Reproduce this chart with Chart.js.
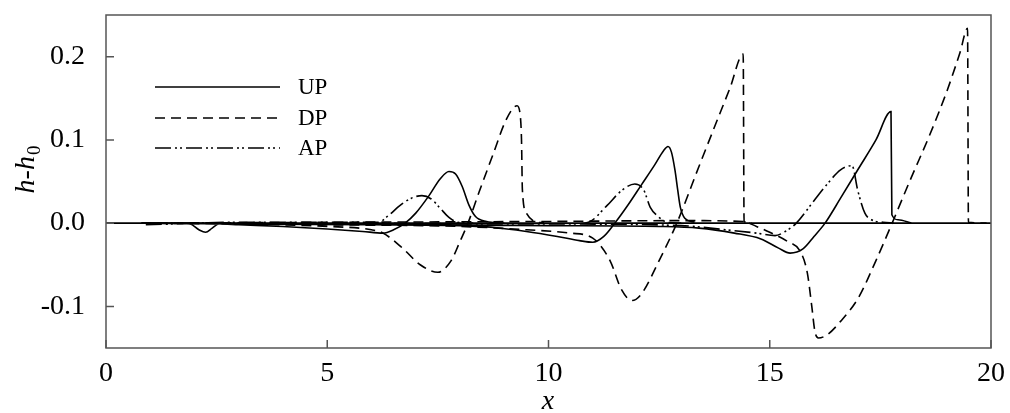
<!DOCTYPE html>
<html>
<head>
<meta charset="utf-8">
<script src="https://cdn.jsdelivr.net/npm/chart.js@4.4.1/dist/chart.umd.min.js"></script>
<style>
  html, body { margin: 0; padding: 0; background: #fff; }
  #wrap { width: 1010px; height: 413px; }
</style>
</head>
<body>
<div id="wrap"><canvas id="chart" width="1010" height="413"></canvas></div>
<script>
// x ticks / y ticks
const xTicks = [0, 5, 10, 15, 20];
const yTicks = [-0.1, 0.0, 0.1, 0.2];
const seriesNames = ['UP', 'DP', 'AP'];

// UP, three snapshots
const upX1 = [0.8, 1.5, 1.9, 2.1, 2.25, 2.4, 2.55, 3, 4, 5, 5.8, 6.26, 6.5, 6.76, 7.0, 7.3, 7.55, 7.75, 7.9, 8.05, 8.2, 8.35, 8.6, 9.0];
const upY1 = [0, 0, -0.001, -0.008, -0.011, -0.006, -0.001, -0.002, -0.004, -0.007, -0.010, -0.012, -0.008, 0.0, 0.012, 0.033, 0.053, 0.062, 0.059, 0.044, 0.022, 0.008, 0.002, 0];
const upX2 = [0.8, 3, 6, 8, 8.7, 9.5, 10.2, 10.7, 11.0, 11.25, 11.5, 11.8, 12.1, 12.4, 12.6, 12.7, 12.78, 12.86, 12.92, 12.98, 13.08, 13.3];
const upY2 = [0, -0.001, -0.002, -0.003, -0.005, -0.010, -0.016, -0.021, -0.023, -0.016, 0.0, 0.022, 0.046, 0.07, 0.087, 0.092, 0.085, 0.063, 0.04, 0.019, 0.006, 0.001];
const upX3 = [0.8, 5, 10, 12.5, 13.4, 14.2, 14.8, 15.2, 15.46, 15.75, 16.0, 16.25, 16.6, 17.0, 17.4, 17.74, 17.76, 17.9, 18.2];
const upY3 = [0, -0.001, -0.003, -0.004, -0.006, -0.012, -0.019, -0.030, -0.036, -0.031, -0.016, 0.0, 0.03, 0.065, 0.1, 0.134, 0.01, 0.004, 0];

// DP, three snapshots
const dpX1 = [0.8, 3, 5, 6.0, 6.26, 6.7, 7.1, 7.5, 7.8, 8.0, 8.18, 8.45, 8.75, 9.05, 9.29, 9.36, 9.39, 9.41, 9.5, 9.65, 9.9];
const dpY1 = [0, -0.001, -0.004, -0.008, -0.012, -0.03, -0.05, -0.059, -0.045, -0.022, 0.0, 0.04, 0.083, 0.125, 0.141, 0.13, 0.10, 0.04, 0.012, 0.003, 0];
const dpX2 = [0.8, 5, 8, 9.5, 10.5, 11.0, 11.39, 11.65, 11.89, 12.1, 12.5, 12.9, 13.4, 13.8, 14.1, 14.4, 14.42, 14.6];
const dpY2 = [0, -0.002, -0.004, -0.008, -0.012, -0.018, -0.045, -0.08, -0.093, -0.085, -0.045, 0.0, 0.068, 0.122, 0.162, 0.203, 0.002, 0];
const dpX3 = [0.8, 5, 10, 13, 14.4, 14.7, 15.0, 15.4, 15.7, 15.85, 15.95, 16.02, 16.1, 16.3, 16.6, 17.0, 17.4, 17.75, 18.2, 18.6, 19.0, 19.3, 19.47, 19.49, 19.9];
const dpY3 = [0, 0.001, 0.002, 0.003, 0.002, -0.004, -0.011, -0.022, -0.035, -0.06, -0.1, -0.13, -0.138, -0.134, -0.118, -0.09, -0.045, -0.002, 0.055, 0.104, 0.158, 0.205, 0.234, 0.001, 0];

// AP, three snapshots
const apX1 = [0.9, 3, 5, 6.15, 6.4, 6.64, 6.9, 7.14, 7.35, 7.55, 7.75, 7.95, 8.3];
const apY1 = [-0.002, 0.001, 0.001, 0.001, 0.01, 0.021, 0.03, 0.033, 0.029, 0.018, 0.007, 0.001, 0];
const apX2 = [0.9, 5, 9, 10.5, 10.9, 11.32, 11.65, 11.95, 12.15, 12.3, 12.5, 12.68, 13.0];
const apY2 = [0, 0, -0.001, -0.001, 0.001, 0.021, 0.039, 0.047, 0.04, 0.019, 0.007, 0.001, 0];
const apX3 = [0.9, 10, 13, 14, 14.7, 15.12, 15.35, 15.6, 16.0, 16.3, 16.6, 16.86, 16.99, 17.15, 17.3, 17.56, 17.8];
const apY3 = [0, -0.001, -0.003, -0.008, -0.012, -0.015, -0.01, 0.0, 0.027, 0.047, 0.064, 0.069, 0.039, 0.012, 0.004, 0.001, 0];

const serif = "'Liberation Serif', 'DejaVu Serif', serif";

// glue snapshots into one dataset, broken by a null point
function joinSnaps(xs, ys) {
  const pts = [];
  xs.forEach(function (xa, k) {
    if (k) pts.push({ x: xa[0], y: null });
    xa.forEach(function (x, i) { pts.push({ x: x, y: ys[k][i] }); });
  });
  return pts;
}

const dashes = [[], [10, 6], [16, 4, 2, 3, 2, 4]];

function makeSet(i, pts) {
  return {
    label: seriesNames[i],
    data: pts,
    borderColor: '#000',
    borderWidth: 1.6,
    borderDash: dashes[i],
    pointRadius: 0,
    fill: false,
    spanGaps: false,
    cubicInterpolationMode: 'monotone'
  };
}

function noPad(s) {
  s.paddingTop = 0; s.paddingBottom = 0; s.paddingLeft = 0; s.paddingRight = 0;
}

// frame, inward ticks, zero line, legend and axis titles
const decor = {
  id: 'decor',
  beforeDatasetsDraw(chart) {
    const ctx = chart.ctx, a = chart.chartArea;
    const ys = chart.scales.y;
    ctx.save();
    ctx.strokeStyle = '#000';
    ctx.lineWidth = 1.8;
    const y0 = ys.getPixelForValue(0);
    ctx.beginPath();
    ctx.moveTo(a.left, y0);
    ctx.lineTo(a.right, y0);
    ctx.stroke();
    ctx.restore();
  },
  afterDraw(chart) {
    const ctx = chart.ctx, a = chart.chartArea;
    const xs = chart.scales.x, ys = chart.scales.y;
    ctx.save();
    ctx.strokeStyle = '#555';
    ctx.lineWidth = 1.5;
    ctx.strokeRect(a.left, a.top, a.right - a.left, a.bottom - a.top);
    ctx.beginPath();
    xTicks.forEach(function (v) {
      const px = xs.getPixelForValue(v);
      ctx.moveTo(px, a.bottom);
      ctx.lineTo(px, a.bottom - 8);
    });
    yTicks.forEach(function (v) {
      const py = ys.getPixelForValue(v);
      ctx.moveTo(a.left, py);
      ctx.lineTo(a.left + 8, py);
    });
    ctx.stroke();

    // legend
    const ly = [87, 118, 148];
    chart.data.datasets.forEach(function (ds, i) {
      ctx.strokeStyle = '#000';
      ctx.lineWidth = 1.6;
      ctx.setLineDash(ds.borderDash);
      ctx.beginPath();
      ctx.moveTo(155, ly[i]);
      ctx.lineTo(280, ly[i]);
      ctx.stroke();
      ctx.setLineDash([]);
      ctx.fillStyle = '#000';
      ctx.font = '23px ' + serif;
      ctx.textBaseline = 'middle';
      ctx.textAlign = 'left';
      ctx.fillText(ds.label, 298, ly[i] + 1);
    });

    // x title
    ctx.fillStyle = '#000';
    ctx.font = 'italic 28px ' + serif;
    ctx.textAlign = 'center';
    ctx.textBaseline = 'alphabetic';
    ctx.fillText('x', 548, 409);

    // y title h-h0, rotated
    ctx.translate(34, 170);
    ctx.rotate(-Math.PI / 2);
    ctx.textAlign = 'left';
    const main = 'h-h';
    ctx.font = 'italic 28px ' + serif;
    const w1 = ctx.measureText(main).width;
    ctx.font = '19px ' + serif;
    const w2 = ctx.measureText('0').width;
    const start = -(w1 + w2) / 2;
    ctx.font = 'italic 28px ' + serif;
    ctx.fillText(main, start, 0);
    ctx.font = '19px ' + serif;
    ctx.fillText('0', start + w1 + 1, 6);
    ctx.restore();
  }
};

new Chart(document.getElementById('chart'), {
  type: 'line',
  data: {
    datasets: [
      makeSet(0, joinSnaps([upX1, upX2, upX3], [upY1, upY2, upY3])),
      makeSet(1, joinSnaps([dpX1, dpX2, dpX3], [dpY1, dpY2, dpY3])),
      makeSet(2, joinSnaps([apX1, apX2, apX3], [apY1, apY2, apY3]))
    ]
  },
  options: {
    responsive: false,
    animation: false,
    devicePixelRatio: 1,
    layout: { padding: { top: 15, right: 19, left: 0, bottom: 0 } },
    plugins: { legend: { display: false }, tooltip: { enabled: false } },
    scales: {
      x: {
        type: 'linear',
        min: 0, max: 20,
        grid: { display: false },
        border: { display: false },
        afterBuildTicks: function (s) { s.ticks = xTicks.map(function (v) { return { value: v }; }); },
        ticks: {
          autoSkip: false,
          color: '#000',
          padding: 1,
          font: { family: serif, size: 28 },
          maxRotation: 0
        },
        afterFit: function (s) { s.height = 65; noPad(s); }
      },
      y: {
        type: 'linear',
        min: -0.15, max: 0.25,
        grid: { display: false },
        border: { display: false },
        afterBuildTicks: function (s) { s.ticks = yTicks.map(function (v) { return { value: v }; }); },
        ticks: {
          autoSkip: false,
          color: '#000',
          padding: 13,
          font: { family: serif, size: 28 },
          callback: function (v) { return (Math.abs(v) < 1e-9 ? 0 : v).toFixed(1); }
        },
        afterFit: function (s) { s.width = 106; noPad(s); }
      }
    }
  },
  plugins: [decor]
});
</script>
</body>
</html>
